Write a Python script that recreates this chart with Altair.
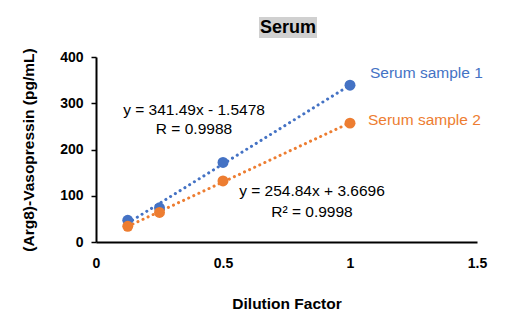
import altair as alt
import pandas as pd

dilution = [0.125, 0.25, 0.5, 1.0]
sample1 = [47, 74, 172, 339]
sample2 = [34, 64, 132, 257]
series_names = ["Serum sample 1", "Serum sample 2"]
colors = ["#4472C4", "#ED7D31"]

rows = []
for name, vals in zip(series_names, [sample1, sample2]):
    for x, y in zip(dilution, vals):
        rows.append({"x": x, "y": y, "series": name})
df = pd.DataFrame(rows)

FONT = "Liberation Sans"
color = alt.Color("series:N", scale=alt.Scale(domain=series_names, range=colors), legend=None)
xs = alt.X("x:Q", scale=alt.Scale(domain=[0, 1.5]),
           axis=alt.Axis(values=[0, 0.5, 1, 1.5], format="~g", title="Dilution Factor", ticks=False,
                         labelFlush=False, labelPadding=14, titlePadding=26))
ys = alt.Y("y:Q", scale=alt.Scale(domain=[0, 400]),
           axis=alt.Axis(values=[0, 100, 200, 300, 400], title="(Arg8)-Vasopressin (pg/mL)",
                         tickSize=5, labelPadding=8, titlePadding=23))

base = alt.Chart(df)

lines = base.transform_regression("x", "y", groupby=["series"], extent=[0.125, 1]).mark_line(
    strokeDash=[0.1, 5.5], strokeCap="round", strokeWidth=3
).encode(x=xs, y=ys, color=color)

points = base.mark_point(filled=True, size=120, opacity=1).encode(x=xs, y=ys, color=color)

last = base.transform_filter(alt.datum.x == 1)
lab1 = last.transform_filter(alt.datum.series == series_names[0]).mark_text(
    align="left", dx=20, dy=-12, fontSize=15.5, font=FONT
).encode(x=xs, y=ys, text="series:N", color=color)
lab2 = last.transform_filter(alt.datum.series == series_names[1]).mark_text(
    align="left", dx=18, dy=-3, fontSize=15.5, font=FONT
).encode(x=xs, y=ys, text="series:N", color=color)

ann = pd.DataFrame({"t": ["y = 341.49x - 1.5478", "R = 0.9988", "y = 254.84x + 3.6696", "R² = 0.9998"]})
eqs = []
for t, px, py in [("y = 341.49x - 1.5478", 98, 53), ("R = 0.9988", 98, 72),
                  ("y = 254.84x + 3.6696", 216, 134), ("R² = 0.9998", 216, 155)]:
    eqs.append(alt.Chart(ann).transform_filter(alt.datum.t == t).mark_text(
        fontSize=15.5, font=FONT, color="black", baseline="middle", align="center"
    ).encode(x=alt.value(px), y=alt.value(py), text="t:N"))

title_box = alt.Chart(ann).transform_filter(alt.datum.t == "R = 0.9988").mark_rect(color="#D0D0D0").encode(
    x=alt.value(163), x2=alt.value(221), y=alt.value(-40), y2=alt.value(-19))
title_txt = alt.Chart(ann).transform_filter(alt.datum.t == "R = 0.9988").mark_text(
    fontSize=18, fontWeight="bold", font=FONT, color="black", baseline="middle", align="center"
).encode(x=alt.value(192), y=alt.value(-29), text=alt.value("Serum"))

chart = alt.layer(title_box, title_txt, lines, points, lab1, lab2, *eqs).properties(
    width=381, height=185,
    autosize=alt.AutoSizeParams(type="none"),
    padding={"left": 96, "top": 57, "right": 43, "bottom": 83},
    background="white",
).configure_view(stroke=None).configure_axis(
    grid=False, domainColor="black", domainWidth=2, tickColor="black", tickWidth=1.5,
    labelFont=FONT, labelFontSize=14, labelFontWeight="bold", labelColor="black",
    titleFont=FONT, titleFontSize=15.5, titleFontWeight="bold", titleColor="black",
)

chart.save("out.html", embed_options={"renderer": "svg", "actions": False})
